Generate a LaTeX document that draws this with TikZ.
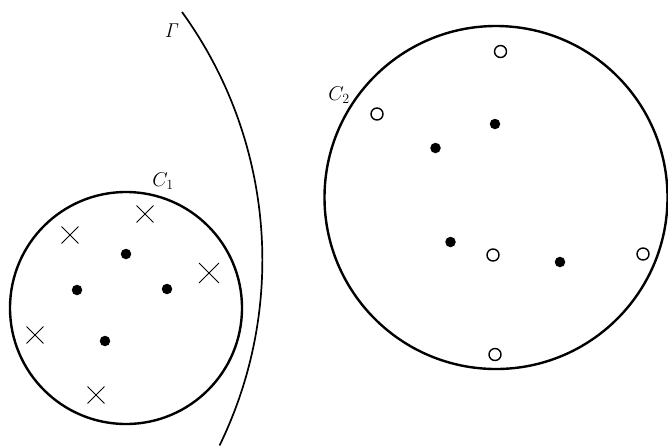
\RequirePackage{fix-cm}
\documentclass[tikz,border=0pt]{standalone}
\usetikzlibrary{shapes.misc}
\begin{document}
\begin{tikzpicture}[x=1pt,y=-1pt,
  bigcirc/.style={line width=2.4pt},
  dotpt/.style={circle,fill=black,inner sep=0pt,minimum size=10.5pt},
  openpt/.style={circle,draw=black,line width=1.4pt,inner sep=0pt,minimum size=12pt},
  xpt/.style={cross out,draw=black,line width=0.9pt,inner sep=0pt,minimum size=16pt},
  bigx/.style={xpt,minimum size=19pt},
  lab/.style={font=\fontsize{20}{24}\selectfont,inner sep=0pt}]
\useasboundingbox (0,0) rectangle (668,445);
% curve Gamma
\coordinate (gtop) at (182,12);
\draw[line width=1.7pt] (gtop) arc[start angle=-35.9, end angle=26.0, radius=423];
\node[lab] (gam) at (172,31) {$\mathit{\Gamma}$};
% circle C1
\draw[bigcirc] (126,308) circle (116);
\node[lab] (c1) at (163,181) {$C_1$};
\node[xpt] (x1) at (70,235) {};
\node[xpt] (x2) at (145,214) {};
\node[bigx] (x3) at (209,273) {};
\node[xpt] (x4) at (35,335) {};
\node[xpt] (x5) at (96,395) {};
\node[dotpt] (d1) at (126,254) {};
\node[dotpt] (d2) at (77,290) {};
\node[dotpt] (d3) at (167,289) {};
\node[dotpt] (d4) at (105,341) {};
% circle C2
\draw[bigcirc] (496,197.5) circle (171.5);
\node[lab] (c2) at (339,95) {$C_2$};
\node[openpt] (o1) at (500.5,51.5) {};
\node[openpt] (o2) at (377,114) {};
\node[openpt] (o3) at (493,255) {};
\node[openpt] (o4) at (643,254) {};
\node[openpt] (o5) at (495,354.5) {};
\node[dotpt] (e1) at (495,124) {};
\node[dotpt] (e2) at (435.5,148) {};
\node[dotpt] (e3) at (450.5,242) {};
\node[dotpt] (e4) at (560,262) {};
\end{tikzpicture}
\end{document}
